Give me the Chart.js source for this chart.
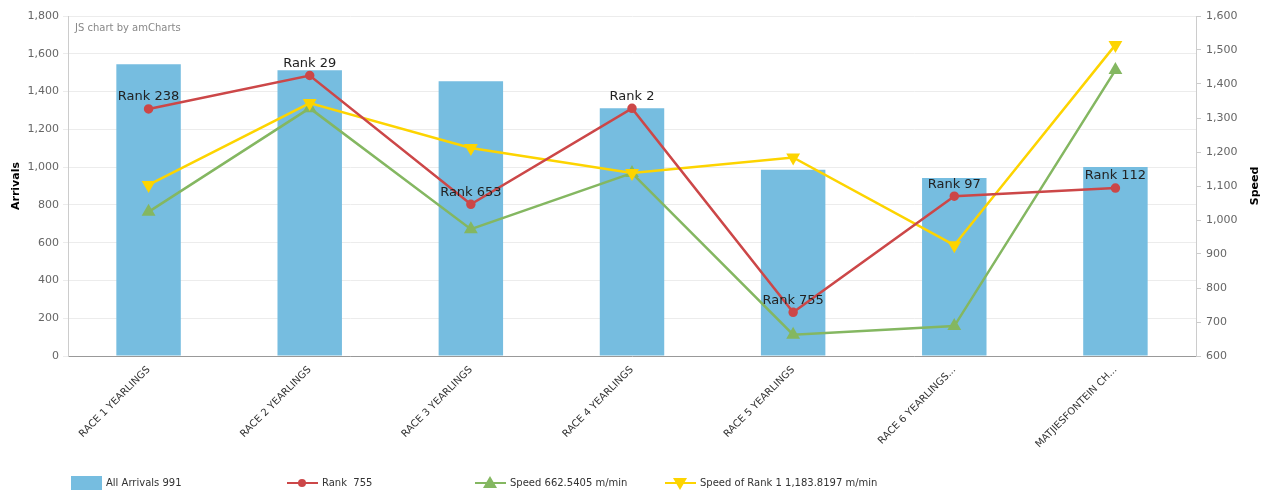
<!DOCTYPE html>
<html>
<head>
<meta charset="utf-8">
<script src="https://cdn.jsdelivr.net/npm/chart.js@4.4.0/dist/chart.umd.min.js"></script>
<style>
  html, body { margin: 0; padding: 0; background: #fff; }
  #wrap { width: 1268px; height: 490px; position: relative; }
</style>
</head>
<body>
<div id="wrap"><canvas id="chart"></canvas></div>
<script>
const categories = ['RACE 1 YEARLINGS', 'RACE 2 YEARLINGS', 'RACE 3 YEARLINGS', 'RACE 4 YEARLINGS', 'RACE 5 YEARLINGS', 'RACE 6 YEARLINGS...', 'MATJIESFONTEIN CH...'];
const arrivals = [1545, 1513, 1455, 1312, 986, 942, 1000];
const rankPosition = [1308, 1485, 803, 1311, 231, 846, 889];
const rankLabels = [238, 29, 653, 2, 755, 97, 112];
const speed = [1024, 1329, 973, 1138, 662.5, 688, 1441];
const speedRank1 = [1103, 1344, 1212, 1138, 1184, 926, 1515];
const legendTexts = ['All Arrivals 991', 'Rank  755', 'Speed 662.5405 m/min', 'Speed of Rank 1 1,183.8197 m/min'];

const FONT = 'DejaVu Sans, Verdana, sans-serif';

// labels above the rank points, watermark, right title and legend
const extras = {
  id: 'extras',
  afterDatasetsDraw(chart) {
    const ctx = chart.ctx;
    const meta = chart.getDatasetMeta(1);
    ctx.save();
    ctx.font = '13px ' + FONT;
    ctx.fillStyle = '#222';
    ctx.textAlign = 'center';
    ctx.textBaseline = 'middle';
    meta.data.forEach((pt, i) => {
      ctx.fillText('Rank ' + rankLabels[i], pt.x, pt.y - 12);
    });
    ctx.restore();
  },
  afterDraw(chart) {
    const ctx = chart.ctx;
    const area = chart.chartArea;
    ctx.save();
    ctx.font = '10px ' + FONT;
    ctx.fillStyle = '#888';
    ctx.textBaseline = 'middle';
    ctx.fillText('JS chart by amCharts', area.left + 7, area.top + 12);

    // right axis title
    ctx.translate(1255, (area.top + area.bottom) / 2);
    ctx.rotate(-Math.PI / 2);
    ctx.font = 'bold 11px ' + FONT;
    ctx.fillStyle = '#000';
    ctx.textAlign = 'center';
    ctx.fillText('Speed', 0, 0);
    ctx.restore();

    // legend
    const cols = [71, 287, 475, 665];
    const y = 483;
    ctx.save();
    ctx.font = '10px ' + FONT;
    ctx.textBaseline = 'middle';
    chart.data.datasets.forEach((ds, i) => {
      const x = cols[i];
      if (i === 0) {
        ctx.fillStyle = ds.backgroundColor;
        ctx.fillRect(x, y - 7, 31, 15);
      } else {
        ctx.strokeStyle = ds.borderColor;
        ctx.lineWidth = 2;
        ctx.beginPath();
        ctx.moveTo(x, y);
        ctx.lineTo(x + 31, y);
        ctx.stroke();
        ctx.fillStyle = ds.borderColor;
        ctx.beginPath();
        if (ds.pointStyle === 'circle') {
          ctx.arc(x + 15, y, 4, 0, Math.PI * 2);
        } else if (ds.pointStyle === 'triangle' && !ds.pointRotation) {
          ctx.moveTo(x + 15, y - 7); ctx.lineTo(x + 22, y + 5); ctx.lineTo(x + 8, y + 5);
        } else {
          ctx.moveTo(x + 15, y + 7); ctx.lineTo(x + 22, y - 5); ctx.lineTo(x + 8, y - 5);
        }
        ctx.closePath();
        ctx.fill();
      }
      ctx.fillStyle = '#333';
      ctx.fillText(legendTexts[i], x + 35, y);
    });
    ctx.restore();
  }
};

new Chart(document.getElementById('chart'), {
  data: {
    labels: categories,
    datasets: [
      {
        type: 'bar',
        label: 'All Arrivals',
        data: arrivals,
        backgroundColor: '#76bde0',
        yAxisID: 'y',
        barPercentage: 0.4,
        categoryPercentage: 1,
        order: 4
      },
      {
        type: 'line',
        label: 'Rank',
        data: rankPosition,
        borderColor: '#cc4748',
        backgroundColor: '#cc4748',
        borderWidth: 2.5,
        pointStyle: 'circle',
        pointRadius: 3.5,
        yAxisID: 'y',
        order: 1
      },
      {
        type: 'line',
        label: 'Speed',
        data: speed,
        borderColor: '#84b761',
        backgroundColor: '#84b761',
        borderWidth: 2.5,
        pointStyle: 'triangle',
        pointRadius: 5.5,
        yAxisID: 'y1',
        order: 3
      },
      {
        type: 'line',
        label: 'Speed of Rank 1',
        data: speedRank1,
        borderColor: '#fdd400',
        backgroundColor: '#fdd400',
        borderWidth: 2.5,
        pointStyle: 'triangle',
        pointRotation: 180,
        pointRadius: 5.5,
        yAxisID: 'y1',
        order: 2
      }
    ]
  },
  options: {
    responsive: true,
    maintainAspectRatio: false,
    animation: false,
    layout: { padding: { top: 16, left: 10, right: 0, bottom: 0 } },
    plugins: {
      legend: { display: false },
      tooltip: { enabled: false }
    },
    scales: {
      x: {
        grid: { display: false, drawTicks: true, tickLength: 5, color: '#999' },
        border: { color: '#999' },
        ticks: {
          maxRotation: 45, minRotation: 45,
          font: { family: FONT, size: 10 },
          color: '#333',
          autoSkip: false
        },
        afterFit(s) { s.height = 134; }
      },
      y: {
        position: 'left',
        min: 0, max: 1800,
        ticks: {
          stepSize: 200,
          font: { family: FONT, size: 11 },
          color: '#666',
          padding: 4
        },
        grid: { color: '#ececec', tickLength: 5 },
        border: { color: '#ccc' },
        title: {
          display: true, text: 'Arrivals',
          font: { family: FONT, size: 11, weight: 'bold' },
          color: '#000', padding: 0
        },
        afterFit(s) { s.width = 58; }
      },
      y1: {
        position: 'right',
        min: 600, max: 1600,
        ticks: {
          stepSize: 100,
          font: { family: FONT, size: 11 },
          color: '#666',
          padding: 5
        },
        grid: { drawOnChartArea: false, tickLength: 5, color: '#ccc' },
        border: { color: '#ccc' },
        afterFit(s) { s.width = 72; }
      }
    }
  },
  plugins: [extras]
});
</script>
</body>
</html>
